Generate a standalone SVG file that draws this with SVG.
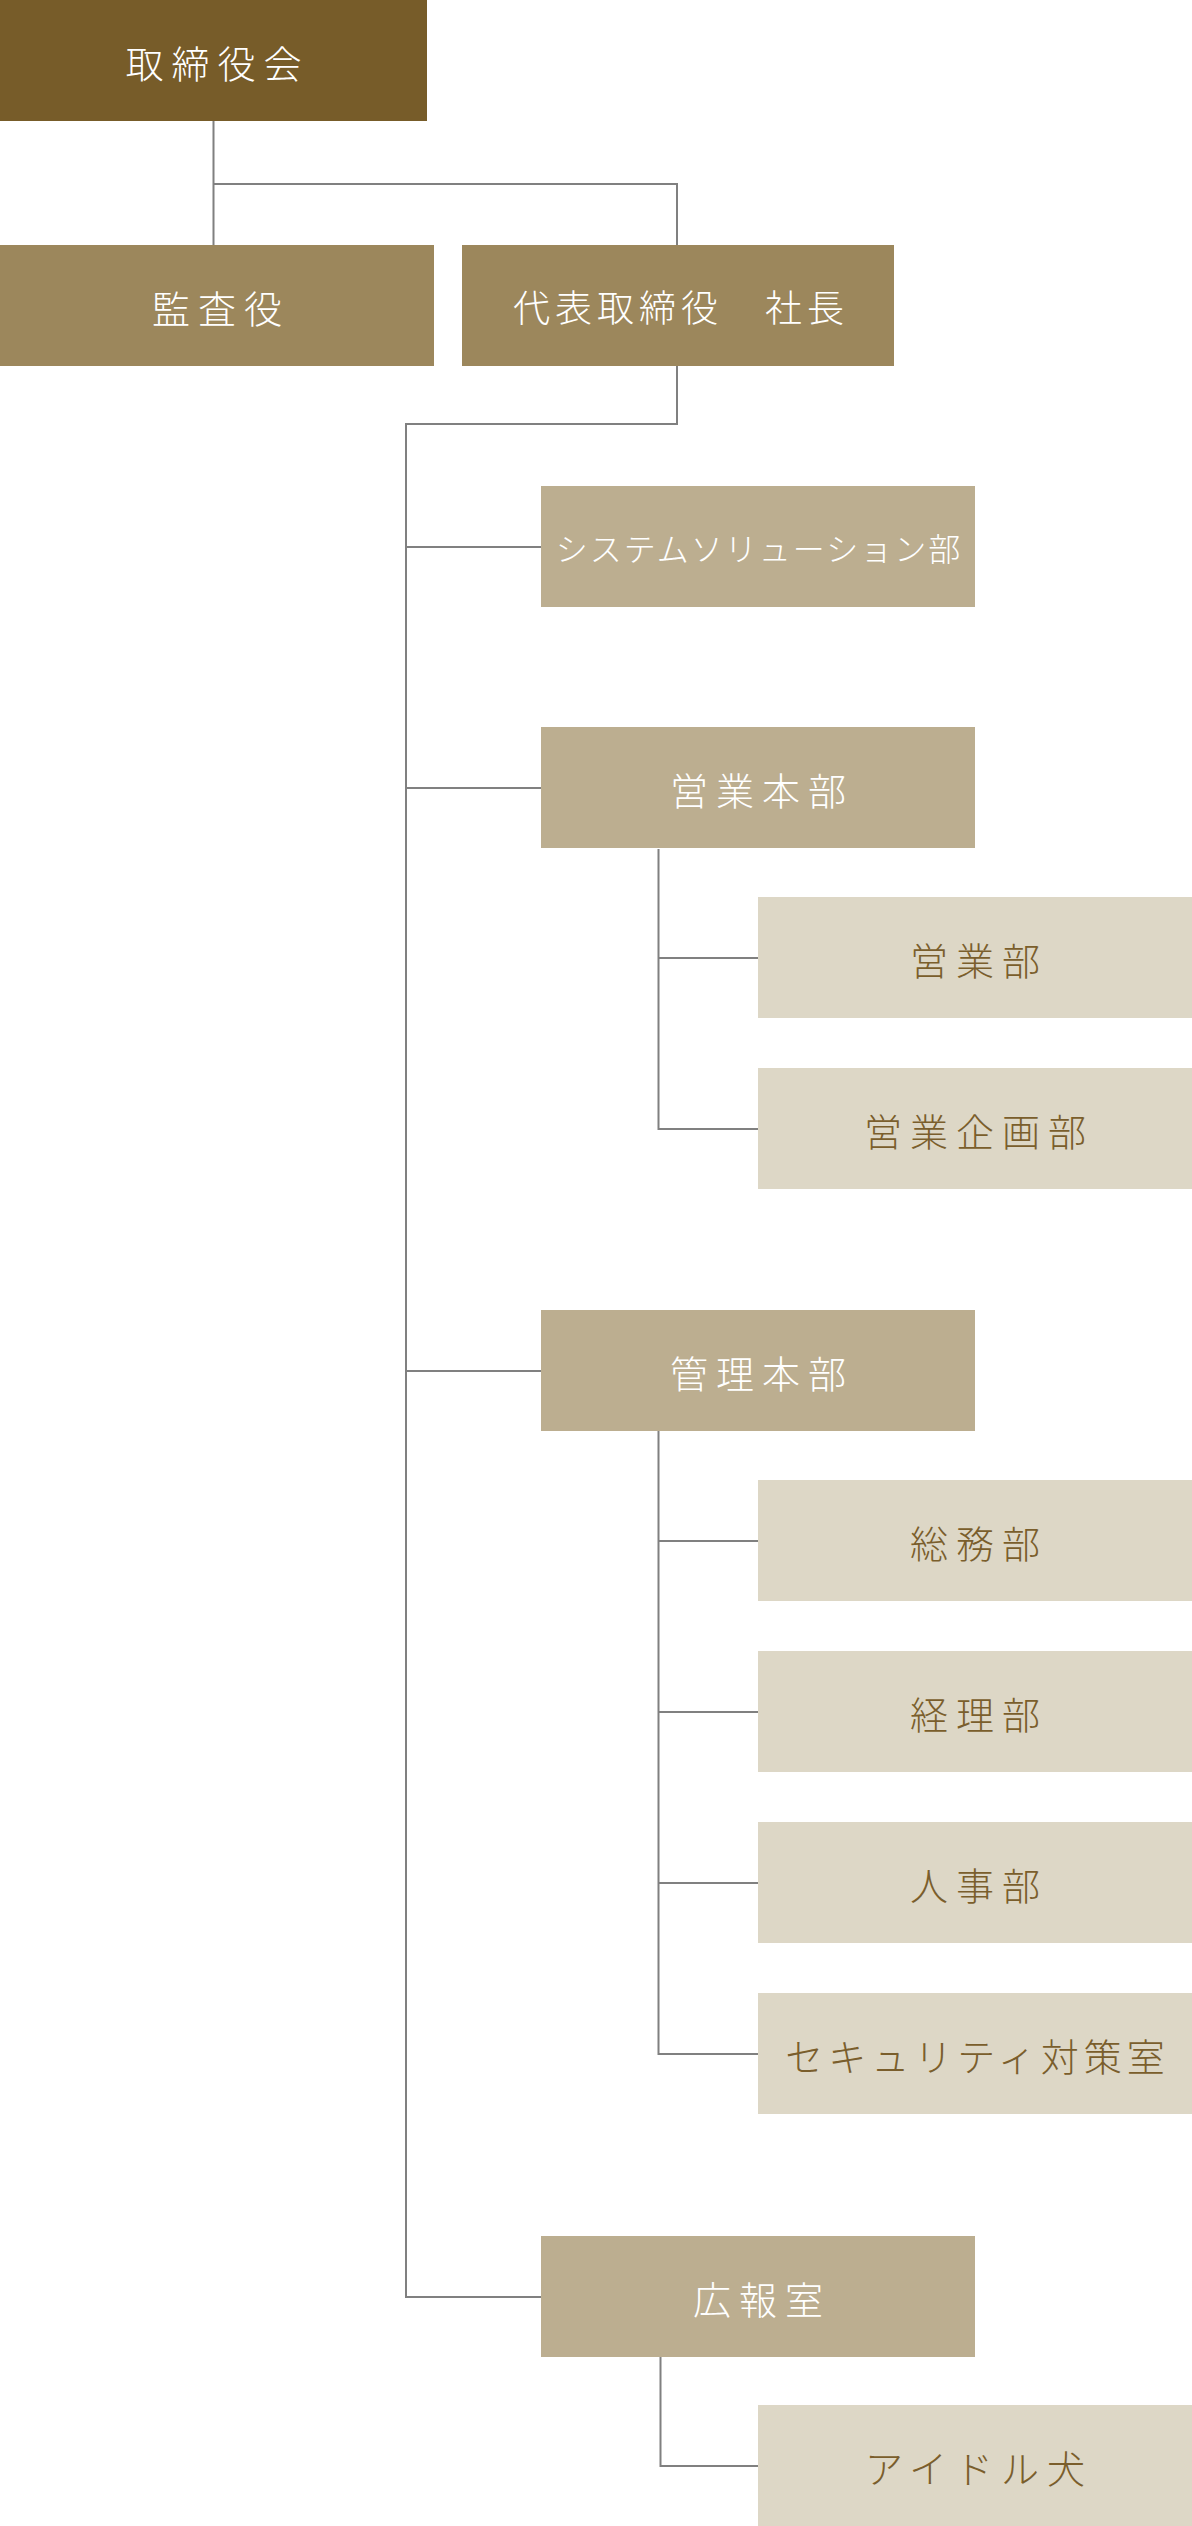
<svg xmlns="http://www.w3.org/2000/svg" width="1192" height="2526" viewBox="0 0 1192 2526">
<style>
.b0{fill:#775c29}
.b1{fill:#9c875c}
.b2{fill:#bcae90}
.b3{fill:#ddd7c6}
text{font-family:"Noto Sans CJK JP","Noto Sans CJK SC",sans-serif;font-weight:300;font-size:38px;text-anchor:middle;dominant-baseline:central;letter-spacing:8px}
.tw{fill:#ffffff}
.tb{fill:#7a5e2c}
.con{fill:none;stroke:#808080;stroke-width:2}
</style>
<rect width="1192" height="2526" fill="#ffffff"/>
<g id="connectors" class="con">
<path d="M213.5,121 V245 M213.5,184 H677 V245"/>
<path d="M677,366 V424 H406 V2297 H541 M406,547 H541 M406,788 H541 M406,1371 H541"/>
<path d="M658.5,849 V1129 H758 M658.5,958 H758"/>
<path d="M658.5,1431 V2054 H758 M658.5,1541 H758 M658.5,1712 H758 M658.5,1883 H758"/>
<path d="M660.5,2357 V2466 H758"/>
</g>
<g id="n-board"><rect class="b0" x="0" y="0" width="427" height="121"/><text class="tw" x="217.5" y="61">取締役会</text></g>
<g id="n-auditor"><rect class="b1" x="0" y="245" width="434" height="121"/><text class="tw" x="221" y="306">監査役</text></g>
<g id="n-president"><rect class="b1" x="462" y="245" width="432" height="121"/><text class="tw" x="681" y="306" style="font-size:37px;letter-spacing:5px">代表取締役　社長</text></g>
<g id="n-system"><rect class="b2" x="541" y="486" width="434" height="121"/><text class="tw" x="759" y="547" style="font-size:32px;letter-spacing:2px">システムソリューション部</text></g>
<g id="n-sales-hq"><rect class="b2" x="541" y="727" width="434" height="121"/><text class="tw" x="762" y="788">営業本部</text></g>
<g id="n-sales"><rect class="b3" x="758" y="897" width="434" height="121"/><text class="tb" x="979" y="958">営業部</text></g>
<g id="n-sales-plan"><rect class="b3" x="758" y="1068" width="434" height="121"/><text class="tb" x="979" y="1129">営業企画部</text></g>
<g id="n-admin-hq"><rect class="b2" x="541" y="1310" width="434" height="121"/><text class="tw" x="762" y="1371">管理本部</text></g>
<g id="n-general"><rect class="b3" x="758" y="1480" width="434" height="121"/><text class="tb" x="979" y="1541">総務部</text></g>
<g id="n-accounting"><rect class="b3" x="758" y="1651" width="434" height="121"/><text class="tb" x="979" y="1712">経理部</text></g>
<g id="n-hr"><rect class="b3" x="758" y="1822" width="434" height="121"/><text class="tb" x="979" y="1883">人事部</text></g>
<g id="n-security"><rect class="b3" x="758" y="1993" width="434" height="121"/><text class="tb" x="977.5" y="2054" style="letter-spacing:5px">セキュリティ対策室</text></g>
<g id="n-pr"><rect class="b2" x="541" y="2236" width="434" height="121"/><text class="tw" x="762" y="2297">広報室</text></g>
<g id="n-idol-dog"><rect class="b3" x="758" y="2405" width="434" height="121"/><text class="tb" x="979" y="2466">アイドル犬</text></g>
</svg>
